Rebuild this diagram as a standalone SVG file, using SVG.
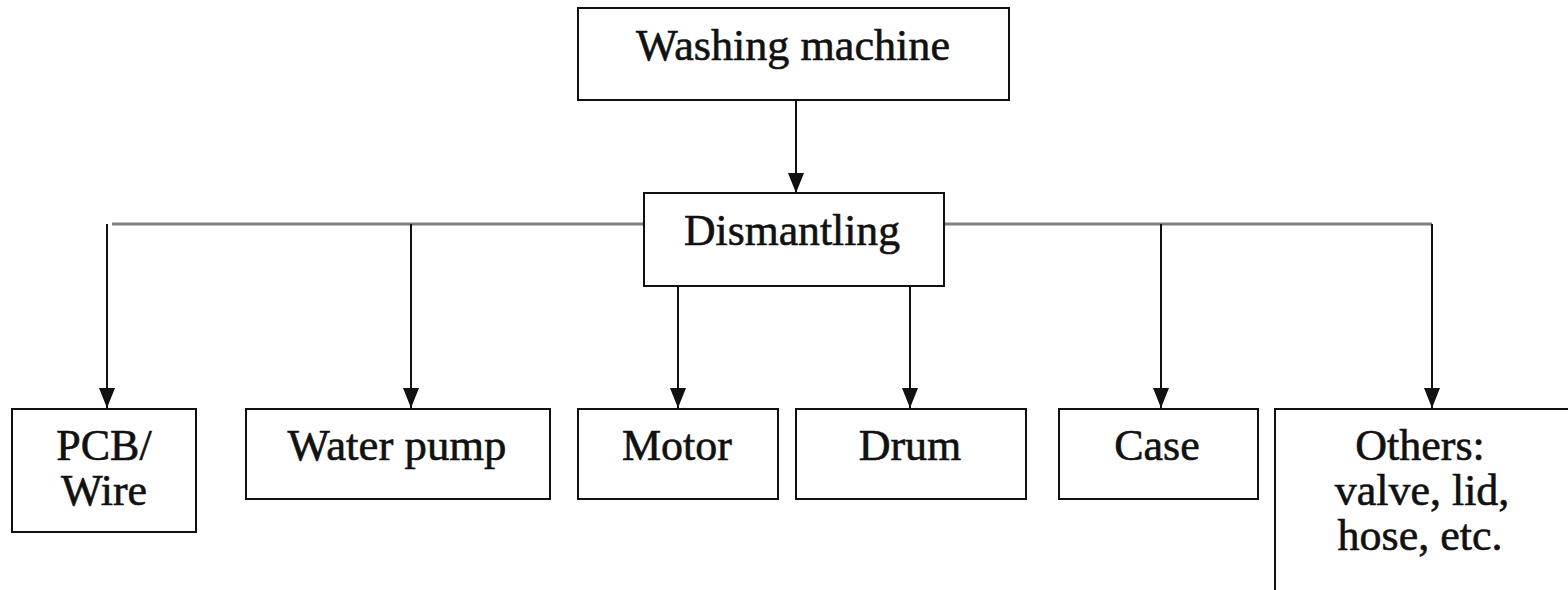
<svg xmlns="http://www.w3.org/2000/svg" width="1568" height="590" viewBox="0 0 1568 590">
  <style>
    .box { fill: #fff; stroke: #111; stroke-width: 2; }
    .lbl { font-family: "Liberation Serif", "Times New Roman", serif; font-size: 44px; fill: #111; stroke: #111; stroke-width: 0.6; text-anchor: middle; }
    .wire { stroke: #111; stroke-width: 2; fill: none; }
    .bus { stroke: #7f7f7f; stroke-width: 3; fill: none; }
  </style>
  <defs>
    <marker id="arrow" markerWidth="20" markerHeight="16" refX="20" refY="8" orient="auto" markerUnits="userSpaceOnUse" viewBox="0 0 20 16">
      <path d="M0,0 L20,8 L0,16 Z" fill="#111"/>
    </marker>
  </defs>
  <rect width="1568" height="590" fill="#fff"/>

  <g id="connectors">
    <line class="bus" x1="112" y1="224" x2="643" y2="224"/>
    <line class="bus" x1="944" y1="224" x2="1432" y2="224"/>
    <line class="wire" x1="796" y1="100" x2="796" y2="193" marker-end="url(#arrow)"/>
    <line class="wire" x1="107" y1="224" x2="107" y2="408" marker-end="url(#arrow)"/>
    <line class="wire" x1="411" y1="224" x2="411" y2="408" marker-end="url(#arrow)"/>
    <line class="wire" x1="678" y1="286" x2="678" y2="408" marker-end="url(#arrow)"/>
    <line class="wire" x1="910" y1="286" x2="910" y2="408" marker-end="url(#arrow)"/>
    <line class="wire" x1="1161" y1="224" x2="1161" y2="408" marker-end="url(#arrow)"/>
    <line class="wire" x1="1432" y1="224" x2="1432" y2="408" marker-end="url(#arrow)"/>
  </g>

  <g id="washing-machine">
    <rect class="box" x="578" y="8" width="431" height="92"/>
    <text class="lbl" x="793" y="60" textLength="314" lengthAdjust="spacingAndGlyphs">Washing machine</text>
  </g>

  <g id="dismantling">
    <rect class="box" x="644" y="193" width="300" height="93"/>
    <text class="lbl" x="792" y="245" textLength="216" lengthAdjust="spacingAndGlyphs">Dismantling</text>
  </g>

  <g id="pcb-wire">
    <rect class="box" x="12" y="409" width="184" height="123"/>
    <text class="lbl" x="104" y="460">PCB/</text>
    <text class="lbl" x="104" y="505">Wire</text>
  </g>

  <g id="water-pump">
    <rect class="box" x="246" y="409" width="304" height="90"/>
    <text class="lbl" x="397" y="460" textLength="219" lengthAdjust="spacingAndGlyphs">Water pump</text>
  </g>

  <g id="motor">
    <rect class="box" x="578" y="409" width="200" height="90"/>
    <text class="lbl" x="677" y="460">Motor</text>
  </g>

  <g id="drum">
    <rect class="box" x="796" y="409" width="230" height="90"/>
    <text class="lbl" x="910" y="460">Drum</text>
  </g>

  <g id="case">
    <rect class="box" x="1059" y="409" width="199" height="90"/>
    <text class="lbl" x="1157" y="460">Case</text>
  </g>

  <g id="others">
    <rect class="box" x="1275" y="409" width="320" height="200"/>
    <text class="lbl" x="1420" y="460">Others:</text>
    <text class="lbl" x="1422" y="505">valve, lid,</text>
    <text class="lbl" x="1420" y="550">hose, etc.</text>
  </g>
</svg>
